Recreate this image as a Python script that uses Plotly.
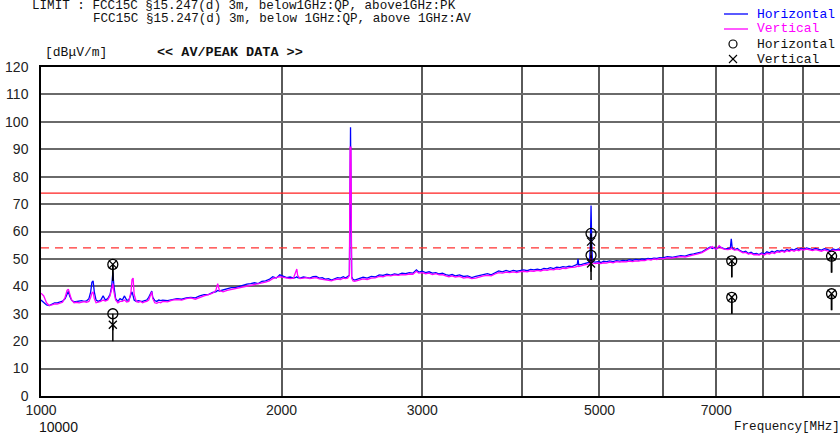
import plotly.graph_objects as go

# ---------------- data ----------------
freq_mhz = [
    1000, 1008, 1016, 1024, 1032, 1040, 1048, 1056, 1064, 1072, 1078, 1082, 1086, 1092, 1100, 1108,
    1116, 1124, 1132, 1140, 1148, 1154, 1158, 1162, 1166, 1172, 1180, 1188, 1196, 1204, 1212, 1220,
    1226, 1230, 1234, 1240, 1248, 1256, 1264, 1272, 1280, 1288, 1296, 1300, 1304, 1308, 1316, 1324,
    1332, 1340, 1348, 1356, 1364, 1372, 1376, 1380, 1388, 1396, 1404, 1412, 1420,
    1440, 1460, 1480, 1500, 1520, 1540, 1560, 1580, 1600, 1620, 1640, 1655, 1664, 1672, 1690, 1710,
    1730, 1750, 1770, 1790, 1810, 1830, 1850, 1870, 1890, 1910, 1930, 1950, 1970, 1990, 2010, 2030,
    2050, 2070, 2085, 2090, 2095, 2110, 2130, 2150, 2170, 2190, 2210, 2230, 2250, 2270, 2290, 2310,
    2330, 2350, 2370, 2390, 2405, 2420, 2432, 2437, 2440, 2443, 2448, 2458, 2470,
    2500, 2530, 2560, 2590, 2620, 2650, 2680, 2710, 2740, 2770, 2800, 2830, 2860, 2890, 2920, 2950,
    2970, 3000, 3030, 3060, 3090, 3120, 3150, 3180, 3210, 3240, 3270, 3300, 3340, 3380, 3420, 3460,
    3500, 3540, 3580, 3620, 3660, 3700, 3740, 3780, 3820, 3860, 3900, 3940, 3980,
    4020, 4060, 4100, 4140, 4180, 4220, 4260, 4300, 4340, 4380, 4420, 4460, 4500, 4540, 4580, 4620,
    4660, 4690, 4700, 4710, 4750, 4790, 4830, 4860, 4870, 4880, 4890, 4900,
    4940, 4980, 5020, 5060, 5100, 5150, 5200, 5250, 5300, 5350, 5400, 5450, 5500, 5550, 5600, 5650,
    5700, 5750, 5800, 5850, 5900, 5950, 6000, 6080, 6160, 6240, 6320, 6400, 6480, 6560, 6640, 6720,
    6800, 6880, 6920, 6960, 7000, 7060, 7120, 7180, 7240, 7290, 7310, 7330, 7380, 7440, 7500, 7560,
    7620, 7680, 7740, 7800, 7860, 7920, 7980, 8040, 8100, 8160, 8220, 8280, 8340, 8400, 8460, 8520,
    8580, 8640, 8700, 8760, 8820, 8880, 8940, 9000, 9080, 9160, 9240, 9320, 9400, 9480, 9560, 9640,
    9720, 9800, 9880, 9960, 10000,
]

horizontal_dbuv = [
    35.0, 34.0, 33.2, 33.0, 33.5, 34.0, 34.0, 34.3, 34.6, 35.5, 37.5, 38.2, 36.5, 35.0, 34.3, 34.5,
    34.6, 34.8, 34.5, 34.7, 35.5, 38.0, 41.5, 42.0, 38.0, 35.0, 34.5, 35.0, 36.5, 35.0, 35.5, 37.0,
    40.0, 45.0, 40.0, 35.5, 34.5, 35.5, 35.0, 36.5, 35.0, 35.0, 37.0, 38.0, 36.5, 35.0, 34.5, 34.8,
    34.6, 34.5, 34.8, 35.0, 36.0, 37.5, 38.3, 36.0, 34.8, 34.5, 35.0, 34.8, 35.0,
    34.8, 35.2, 35.5, 35.3, 35.8, 36.0, 35.8, 36.5, 37.0, 37.0, 37.8, 38.0, 38.5, 38.3, 38.6, 39.0,
    39.5, 39.5, 40.0, 40.3, 40.8, 41.0, 41.3, 41.0, 41.8, 42.0, 42.5, 43.5, 43.0, 44.2, 43.6, 43.2,
    43.4, 43.0, 43.3, 43.5, 43.2, 43.0, 43.4, 43.2, 43.0, 43.5, 43.6, 43.0, 43.2, 42.6, 42.8, 42.3,
    42.8, 43.2, 43.0, 43.5, 43.0, 43.5, 44.0, 75.0, 98.0, 75.0, 43.5, 42.5, 42.3,
    42.8, 43.3, 43.0, 43.6, 43.4, 44.2, 44.0, 44.4, 44.1, 44.5, 44.3, 44.8, 44.6, 45.0, 44.8, 46.0,
    45.2, 45.5, 45.0, 45.3, 44.8, 45.0, 44.5, 44.8, 44.3, 44.0, 44.3, 43.8, 44.2, 43.6, 43.8, 43.2,
    43.6, 44.0, 44.3, 44.6, 44.2, 45.0, 45.6, 45.3, 45.8, 45.4, 45.8, 45.5, 45.8,
    46.0, 45.7, 46.2, 46.0, 46.3, 46.0, 46.5, 46.4, 46.8, 46.5, 47.0, 46.8, 47.2, 47.0, 47.4, 47.2,
    47.6, 48.0, 50.0, 47.8, 48.0, 48.3, 48.5, 48.8, 55.0, 69.5, 55.0, 49.0,
    48.8, 49.0, 48.7, 49.2, 49.0, 49.3, 49.0, 49.4, 49.2, 49.5, 49.3, 49.7, 49.5, 49.8, 49.6, 50.0,
    49.8, 50.2, 50.0, 50.3, 50.2, 50.5, 50.4, 50.8, 50.6, 51.0, 51.2, 51.0, 51.6, 51.8, 52.2, 52.6,
    53.5, 54.3, 53.8, 54.2, 53.6, 54.4, 54.0, 53.6, 53.8, 54.0, 57.3, 54.0, 53.4, 53.8, 53.0, 52.5,
    52.8, 52.0, 52.4, 51.8, 52.0, 51.6, 52.2, 51.8, 52.6, 52.2, 52.8, 52.4, 53.0, 52.8, 53.2, 52.8,
    53.4, 53.0, 53.5, 53.2, 53.8, 53.4, 53.9, 53.5, 54.0, 53.6, 53.4, 53.8, 53.5, 53.2, 53.7, 53.5,
    53.0, 53.6, 53.3, 53.6, 53.4,
]

vertical_dbuv = [
    37.5, 36.5, 34.0, 33.0, 33.2, 33.6, 33.5, 34.0, 34.2, 36.0, 38.5, 39.0, 37.0, 35.0, 34.0, 34.2,
    34.0, 34.3, 34.4, 34.2, 34.5, 36.0, 37.5, 38.0, 35.5, 34.0, 34.2, 34.5, 35.0, 34.6, 35.0, 36.5,
    39.0, 41.0, 38.0, 35.0, 34.0, 34.5, 34.5, 35.0, 34.3, 34.5, 38.0, 42.5, 43.0, 37.0, 34.5, 34.2,
    34.5, 34.0, 34.3, 34.5, 35.0, 37.5, 38.0, 35.5, 34.0, 33.8, 34.2, 34.0, 34.5,
    34.3, 35.0, 35.2, 35.0, 35.5, 35.8, 35.3, 36.0, 36.5, 37.0, 37.5, 38.5, 41.0, 38.5, 38.0, 38.5,
    38.8, 39.2, 39.6, 39.8, 40.2, 40.5, 40.8, 41.0, 41.2, 41.5, 42.0, 42.8, 43.2, 43.5, 43.3, 43.0,
    42.8, 43.0, 45.0, 46.3, 44.0, 42.8, 43.0, 43.2, 42.8, 43.0, 43.2, 42.7, 42.5, 42.3, 42.2, 42.0,
    42.4, 42.6, 42.5, 43.0, 42.8, 43.0, 44.0, 91.0, 70.0, 91.0, 43.0, 42.0, 41.8,
    42.3, 42.7, 42.5, 43.0, 43.1, 43.6, 43.5, 44.0, 43.8, 44.2, 44.0, 44.3, 44.2, 44.5, 44.4, 45.5,
    44.8, 45.0, 44.6, 44.8, 44.3, 44.6, 44.2, 44.3, 43.8, 43.5, 43.8, 43.4, 43.6, 43.0, 43.3, 42.8,
    43.0, 43.5, 43.8, 44.0, 43.8, 44.5, 45.0, 44.8, 45.2, 45.0, 45.3, 45.0, 45.4,
    45.5, 45.3, 45.6, 45.5, 45.8, 45.6, 46.0, 45.8, 46.2, 46.0, 46.4, 46.2, 46.6, 46.5, 46.8, 46.8,
    47.0, 47.3, 47.5, 47.2, 47.6, 47.8, 48.0, 48.3, 49.0, 52.0, 49.0, 48.5,
    48.3, 48.5, 48.3, 48.6, 48.5, 48.8, 48.6, 49.0, 48.8, 49.0, 48.9, 49.2, 49.0, 49.3, 49.2, 49.5,
    49.4, 49.8, 49.6, 50.0, 49.8, 50.2, 50.0, 50.4, 50.3, 50.6, 50.8, 50.7, 51.2, 51.5, 51.8, 52.3,
    53.2, 54.0, 54.5, 53.8, 53.5, 54.8, 53.8, 53.5, 53.4, 53.6, 54.0, 53.6, 53.2, 53.4, 52.8, 52.2,
    52.4, 51.8, 52.0, 51.5, 51.6, 51.4, 51.8, 51.4, 52.0, 51.8, 52.3, 52.0, 52.6, 52.4, 52.8, 52.4,
    53.0, 52.7, 53.2, 52.8, 53.3, 53.0, 53.5, 53.2, 53.6, 53.3, 53.0, 53.4, 53.1, 52.8, 53.3, 53.0,
    52.6, 53.2, 53.0, 53.2, 53.0,
]

marker_h_freq = [1230, 1230, 4880, 4880, 7320, 7320, 9760, 9760]
marker_h_level = [48.0, 30.0, 59.3, 51.3, 49.3, 36.0, 51.0, 37.3]
marker_v_freq = [1230, 1230, 4880, 4880, 7320, 7320, 9760, 9760]
marker_v_level = [48.0, 26.0, 56.3, 48.3, 49.3, 36.0, 51.0, 37.3]

limit_pk = 74.0
limit_av = 54.0

y_tick_vals = list(range(0, 130, 10))
x_grid_vals = [1000, 2000, 3000, 4000, 5000, 6000, 7000, 8000, 9000]
x_tick_text = ["1000", "2000", "3000", "", "5000", "", "7000", "", ""]

# ---------------- figure ----------------
MONO = "Liberation Mono"
SANS = "Liberation Sans"
STEM = 6.0

fig = go.Figure()

# limit lines
fig.add_trace(go.Scatter(x=[1000, 10000], y=[limit_pk, limit_pk], mode="lines",
                         line=dict(color="#ff2020", width=1.2), showlegend=False, hoverinfo="skip"))
fig.add_trace(go.Scatter(x=[1000, 10000], y=[limit_av, limit_av], mode="lines",
                         line=dict(color="#ff3030", width=1.2, dash="8px,6px"),
                         showlegend=False, hoverinfo="skip"))

# spectrum traces
fig.add_trace(go.Scatter(x=freq_mhz, y=horizontal_dbuv, mode="lines", name="Horizontal",
                         line=dict(color="#0000ff", width=1.3), showlegend=False))
fig.add_trace(go.Scatter(x=freq_mhz, y=vertical_dbuv, mode="lines", name="Vertical",
                         line=dict(color="#ff00ff", width=1.3), showlegend=False))

# marker stems
stem_x, stem_y = [], []
for f, v in list(zip(marker_h_freq, marker_h_level)) + list(zip(marker_v_freq, marker_v_level)):
    stem_x += [f, f, None]
    stem_y += [v, v - STEM, None]
fig.add_trace(go.Scatter(x=stem_x, y=stem_y, mode="lines",
                         line=dict(color="black", width=1.5), showlegend=False, hoverinfo="skip"))

fig.add_trace(go.Scatter(x=marker_h_freq, y=marker_h_level, mode="markers", name="Horizontal",
                         marker=dict(symbol="circle-open", size=10, color="black",
                                     line=dict(width=1.3, color="black")), showlegend=False))
fig.add_trace(go.Scatter(x=marker_v_freq, y=marker_v_level, mode="markers", name="Vertical",
                         marker=dict(symbol="x-thin-open", size=8, color="black",
                                     line=dict(width=1.3, color="black")), showlegend=False))

fig.update_xaxes(type="log", range=[3, 4], tickvals=x_grid_vals, ticktext=x_tick_text,
                 showgrid=True, gridcolor="#5a5a5a", gridwidth=1.5,
                 showline=True, linecolor="black", linewidth=1.5, mirror=True,
                 ticks="", tickfont=dict(family=SANS, size=14, color="#222"),
                 zeroline=False)
fig.update_yaxes(range=[0, 120], tickvals=y_tick_vals,
                 showgrid=True, gridcolor="#6a6a6a", gridwidth=1.5,
                 showline=True, linecolor="black", linewidth=1.5,
                 ticks="", ticklabelstandoff=8,
                 tickfont=dict(family=SANS, size=14, color="#222"), zeroline=False)

annotations = [
    dict(text="LIMIT : FCC15C \u00a715.247(d) 3m, below1GHz:QP, above1GHz:PK", x=30, y=6),
    dict(text="FCC15C \u00a715.247(d) 3m, below 1GHz:QP, above 1GHz:AV", x=91, y=19),
    dict(text="[dB\u03bcV/m]", x=43, y=53, size=13),
    dict(text="<b>&lt;&lt; AV/PEAK DATA &gt;&gt;</b>", x=155, y=53, size=13.5),
    dict(text="Frequency[MHz]", x=732, y=427),
    dict(text="10000", x=37, y=427, family=SANS, size=14),
    dict(text="<span style='color:#0000ff'>Horizontal</span>", x=755, y=14, size=13),
    dict(text="<span style='color:#ff00ff'>Vertical</span>", x=755, y=29, size=13),
    dict(text="Horizontal", x=755, y=44, size=13),
    dict(text="Vertical", x=755, y=59, size=13),
]
W, H = 840, 437
ML, MR, MT, MB = 41, 0, 67, 41
pw, ph = W - ML - MR, H - MT - MB


def px_x(x):
    return (x - ML) / pw


def px_y(y):
    return (H - MB - y) / ph


ann_objs = []
for a in annotations:
    ann_objs.append(dict(
        text=a["text"], xref="paper", yref="paper",
        x=px_x(a["x"]), y=px_y(a["y"]),
        xanchor="left", yanchor="middle", showarrow=False,
        font=dict(family=a.get("family", MONO), size=a.get("size", 12.6), color="#111"),
    ))

shapes = [
    dict(type="line", xref="paper", yref="paper",
         x0=px_x(724), x1=px_x(748), y0=px_y(14), y1=px_y(14),
         line=dict(color="#0000ff", width=1.3)),
    dict(type="line", xref="paper", yref="paper",
         x0=px_x(724), x1=px_x(748), y0=px_y(29), y1=px_y(29),
         line=dict(color="#ff00ff", width=1.3)),
    # legend circle symbol
    dict(type="circle", xref="paper", yref="paper",
         x0=px_x(729), x1=px_x(737), y0=px_y(48), y1=px_y(40),
         line=dict(color="black", width=1.2)),
    # legend x symbol
    dict(type="line", xref="paper", yref="paper",
         x0=px_x(729), x1=px_x(737), y0=px_y(55), y1=px_y(63),
         line=dict(color="black", width=1.1)),
    dict(type="line", xref="paper", yref="paper",
         x0=px_x(729), x1=px_x(737), y0=px_y(63), y1=px_y(55),
         line=dict(color="black", width=1.1)),
]

fig.update_layout(
    width=W, height=H, margin=dict(l=ML, r=MR, t=MT, b=MB),
    paper_bgcolor="white", plot_bgcolor="white",
    showlegend=False, annotations=ann_objs, shapes=shapes,
)

fig.write_html("out.html")
